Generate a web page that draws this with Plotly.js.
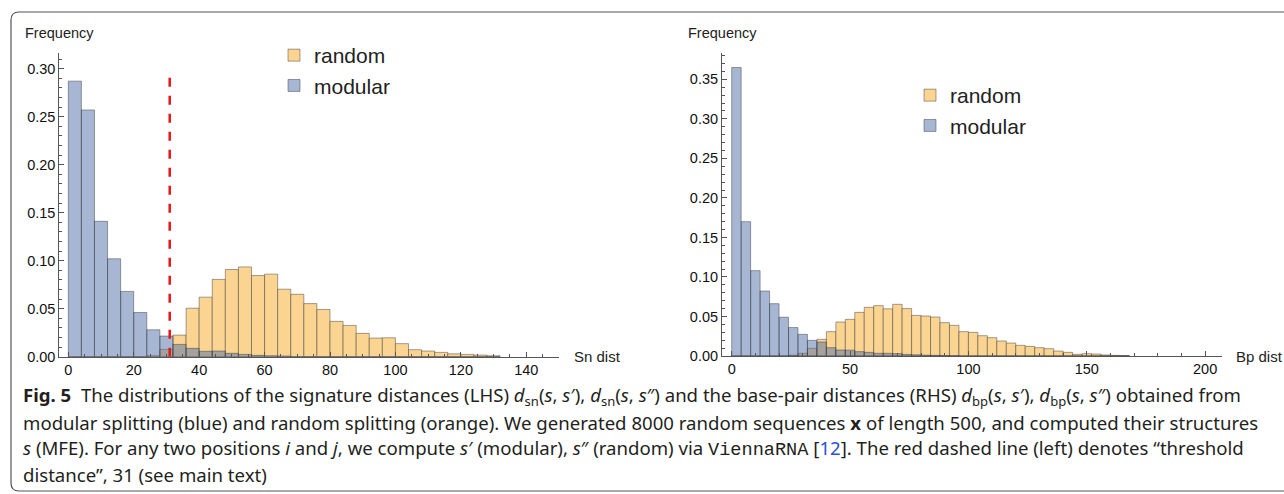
<!DOCTYPE html>
<html>
<head>
<meta charset="utf-8">
<script src="https://cdn.plot.ly/plotly-3.0.1.min.js"></script>
<style>
  html, body { margin: 0; padding: 0; background: #fff; }
  #chart { width: 1284px; height: 494px; }
</style>
</head>
<body>
<div id="chart"></div>
<script>
// ---------- data ----------
const binWidth = 4;

// Left panel: signature distance (Sn dist)
const snBins = [0,4,8,12,16,20,24,28,32,36,40,44,48,52,56,60,64,68,72,76,80,84,88,92,96,100,104,108,112,116,120,124,128];
const snModular = [0.287,0.257,0.141,0.102,0.068,0.046,0.028,0.0215,0.0128,0.0087,0.0056,0.0059,0.0035,0.0024,0.0014,0.001,0.0007,0,0,0,0,0,0,0,0,0,0,0,0,0,0,0,0];
const snRandom  = [0,0,0,0,0,0,0.001,0.0076,0.0225,0.0505,0.062,0.0805,0.0908,0.0935,0.0845,0.086,0.0703,0.065,0.0553,0.0492,0.0368,0.0326,0.0243,0.0194,0.0197,0.0136,0.0073,0.0059,0.0045,0.003,0.0024,0.0017,0.001];
const threshold = 31;

// Right panel: base-pair distance (Bp dist)
const bpBins = [0,4,8,12,16,20,24,28,32,36,40,44,48,52,56,60,64,68,72,76,80,84,88,92,96,100,104,108,112,116,120,124,128,132,136,140,144,148,152,156,160,164];
const bpModular = [0.365,0.170,0.108,0.0822,0.0662,0.0491,0.036,0.0274,0.0198,0.0177,0.0105,0.0076,0.0074,0.0055,0.0046,0.0034,0.0034,0.003,0.002,0.0015,0.001,0.0008,0.0005,0.0003,0,0,0,0,0,0,0,0,0,0,0,0,0,0,0,0,0,0];
const bpRandom  = [0,0,0,0,0,0,0.001,0.0034,0.0097,0.0211,0.0308,0.043,0.0464,0.0552,0.0616,0.0637,0.0597,0.0654,0.0600,0.0514,0.0506,0.0493,0.0422,0.0388,0.0308,0.0299,0.0257,0.0232,0.019,0.0164,0.0135,0.0122,0.0105,0.0093,0.0063,0.0046,0.0021,0.003,0.0025,0.0013,0.0008,0.0005];

const seriesNames = ["random", "modular"];
const snTickVals = [0,20,40,60,80,100,120,140];
const bpTickVals = [0,50,100,150,200];

// ---------- styling ----------
const W = 1284, H = 494;
const px = x => x / W;
const py = y => 1 - y / H;
const FONT = "Liberation Sans, Arial, sans-serif";
const orangeFill = "rgb(251,212,146)";
const blueFill = "rgba(80,112,168,0.5)";
const edge = { color: "rgba(50,50,50,0.45)", width: 1 };

function barTrace(x, y, name, fill, xa, ya, legend) {
  return {
    type: "bar", x: x, y: y, name: name,
    width: binWidth, offset: 0,
    marker: { color: fill, line: edge },
    xaxis: xa, yaxis: ya, legend: legend,
    hoverinfo: "skip"
  };
}

const data = [
  barTrace(snBins, snRandom, seriesNames[0], orangeFill, "x", "y", "legend"),
  barTrace(snBins, snModular, seriesNames[1], blueFill, "x", "y", "legend"),
  barTrace(bpBins, bpRandom, seriesNames[0], orangeFill, "x2", "y2", "legend2"),
  barTrace(bpBins, bpModular, seriesNames[1], blueFill, "x2", "y2", "legend2")
];

const axisCommon = {
  showgrid: false, zeroline: false, showline: true,
  linecolor: "#555", linewidth: 1,
  ticks: "inside", ticklen: 5, tickcolor: "#555", tickwidth: 1,
  tickfont: { family: FONT, size: 14.5, color: "#111" },
  fixedrange: true
};

const layout = {
  width: W, height: H,
  margin: { l: 0, r: 0, t: 0, b: 0 },
  paper_bgcolor: "#fff", plot_bgcolor: "rgba(0,0,0,0)",
  font: { family: FONT, color: "#111" },
  barmode: "overlay",
  showlegend: true,
  xaxis: Object.assign({}, axisCommon, {
    domain: [px(59.3), px(559)], range: [-2.75, 150], anchor: "y",
    tickvals: snTickVals,
    minor: { dtick: 5, ticks: "inside", ticklen: 3, tickcolor: "#555" }
  }),
  yaxis: Object.assign({}, axisCommon, {
    domain: [py(356.7), py(53.3)], range: [0, 0.316], anchor: "x",
    dtick: 0.05, tickformat: ".2f",
    minor: { dtick: 0.01, ticks: "inside", ticklen: 3, tickcolor: "#555" }
  }),
  xaxis2: Object.assign({}, axisCommon, {
    domain: [px(722), px(1221.7)], range: [-4.1, 207], anchor: "y2",
    tickvals: bpTickVals,
    minor: { dtick: 10, ticks: "inside", ticklen: 3, tickcolor: "#555" }
  }),
  yaxis2: Object.assign({}, axisCommon, {
    domain: [py(356), py(53.3)], range: [0, 0.383], anchor: "x2",
    dtick: 0.05, tickformat: ".2f",
    minor: { dtick: 0.01, ticks: "inside", ticklen: 3, tickcolor: "#555" }
  }),
  legend: {
    x: px(274), y: py(35), xanchor: "left", yanchor: "top",
    bgcolor: "rgba(0,0,0,0)", font: { family: FONT, size: 21, color: "#222" },
    tracegroupgap: 0, itemclick: false, itemdoubleclick: false
  },
  legend2: {
    x: px(910), y: py(75), xanchor: "left", yanchor: "top",
    bgcolor: "rgba(0,0,0,0)", font: { family: FONT, size: 21, color: "#222" },
    tracegroupgap: 0, itemclick: false, itemdoubleclick: false
  },
  shapes: [
    { type: "line", xref: "x", yref: "y", x0: threshold, x1: threshold, y0: 0, y1: 0.298,
      line: { color: "rgb(235,20,20)", width: 2.5, dash: "dash" } },
    { type: "path", xref: "paper", yref: "paper",
      path: "M" + px(1284) + "," + py(12) + " L" + px(19) + "," + py(12) +
            " Q" + px(11) + "," + py(12) + " " + px(11) + "," + py(20) +
            " L" + px(11) + "," + py(483) +
            " Q" + px(11) + "," + py(491) + " " + px(19) + "," + py(491) +
            " L" + px(1284) + "," + py(491),
      line: { color: "#555", width: 1.2 } }
  ],
  annotations: []
};

function note(text, x, y, size, opts) {
  return Object.assign({
    text: text, xref: "paper", yref: "paper", x: px(x), y: py(y),
    xanchor: "left", yanchor: "middle", showarrow: false, align: "left",
    font: { family: FONT, size: size, color: "#222" }
  }, opts || {});
}

layout.annotations.push(note("Frequency", 23, 33, 14.5));
layout.annotations.push(note("Frequency", 686, 33, 14.5));
layout.annotations.push(note("Sn dist", 572, 356, 15));
layout.annotations.push(note("Bp dist", 1234, 356, 15));

const CAP = "Noto Sans, Open Sans, sans-serif";
const capSize = 18.6;
const capLines = [
  "<b>Fig. 5</b>  The distributions of the signature distances (LHS) <i>d</i><sub>sn</sub>(<i>s</i>, <i>s</i>′), <i>d</i><sub>sn</sub>(<i>s</i>, <i>s</i>″) and the base-pair distances (RHS) <i>d</i><sub>bp</sub>(<i>s</i>, <i>s</i>′), <i>d</i><sub>bp</sub>(<i>s</i>, <i>s</i>″) obtained from",
  "modular splitting (blue) and random splitting (orange). We generated 8000 random sequences <b>x</b> of length 500, and computed their structures",
  "<i>s</i> (MFE). For any two positions <i>i</i> and <i>j</i>, we compute <i>s</i>′ (modular), <i>s</i>″ (random) via <span style=\"font-family:'Liberation Mono',monospace\">ViennaRNA</span> [<span style=\"color:#2b4fd6\">12</span>]. The red dashed line (left) denotes “threshold",
  "distance”, 31 (see main text)"
];
const capY = [396, 422, 448, 474];
capLines.forEach((t, i) => {
  layout.annotations.push(note(t, 21, capY[i], capSize,
    { font: { family: CAP, size: capSize, color: "#231f20" } }));
});

Plotly.newPlot("chart", data, layout, { displayModeBar: false, staticPlot: true });
</script>
</body>
</html>
